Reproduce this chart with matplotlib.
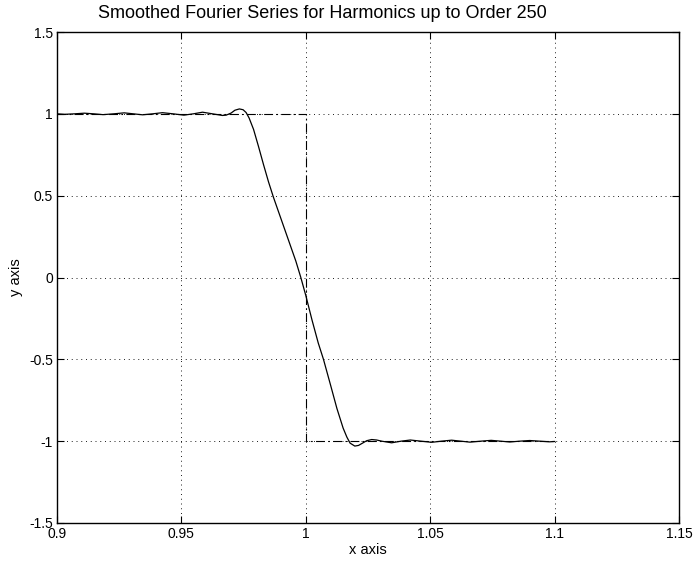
import matplotlib
matplotlib.use("Agg")
import matplotlib.pyplot as plt
from matplotlib.ticker import FuncFormatter

plt.rcParams['font.family'] = ['Liberation Sans', 'DejaVu Sans']

# Smoothed Fourier series curve
curve_x = [0.900, 0.903, 0.907, 0.911, 0.9148, 0.9185, 0.9228, 0.927, 0.9307, 0.9344,
           0.9384, 0.9424, 0.9467, 0.951, 0.9548, 0.9585, 0.9625, 0.9665, 0.968, 0.970,
           0.9715, 0.9733, 0.9748, 0.976, 0.9772, 0.979, 0.981, 0.983, 0.985, 0.987,
           0.990, 0.993, 0.996, 0.998, 1.000, 1.0025, 1.005, 1.0071, 1.010, 1.0125,
           1.015, 1.0165, 1.0178, 1.0197, 1.0212, 1.0228, 1.0245, 1.0265, 1.0285, 1.0305,
           1.0345, 1.0383, 1.042, 1.0463, 1.0506, 1.0545, 1.0586, 1.0623, 1.066, 1.0703,
           1.0745, 1.0783, 1.082, 1.086, 1.090, 1.094, 1.098, 1.100]
curve_y = [1.000, 0.997, 1.000, 1.004, 1.000, 0.995, 1.000, 1.006, 1.000, 0.994,
           1.000, 1.007, 1.000, 0.992, 1.000, 1.010, 1.000, 0.990, 0.992, 1.005,
           1.022, 1.030, 1.025, 1.008, 0.975, 0.905, 0.80, 0.69, 0.585, 0.49,
           0.36, 0.23, 0.10, 0.0, -0.11, -0.26, -0.40, -0.50, -0.66, -0.80,
           -0.92, -0.975, -1.012, -1.030, -1.026, -1.012, -0.997, -0.990, -0.993, -1.000,
           -1.010, -1.000, -0.993, -1.000, -1.007, -1.000, -0.994, -1.000, -1.006, -1.000,
           -0.995, -1.000, -1.005, -1.000, -0.996, -1.000, -1.004, -1.002]

# Square wave (dash-dot)
step_x = [0.9, 1.0, 1.0, 1.1]
step_y = [1.0, 1.0, -1.0, -1.0]

x_ticks = [0.9, 0.95, 1.0, 1.05, 1.1, 1.15]
y_ticks = [-1.5, -1.0, -0.5, 0.0, 0.5, 1.0, 1.5]

fig = plt.figure(figsize=(6.97, 5.66), dpi=100)
ax = fig.add_axes([57/697, 43/566, 622/697, 491/566])

ax.plot(step_x, step_y, color='black', lw=0.8, linestyle=(0, (8, 3, 1.5, 3)))
ax.plot(curve_x, curve_y, color='black', lw=0.9)

ax.set_xlim(0.9, 1.15)
ax.set_ylim(-1.5, 1.5)
ax.set_xticks(x_ticks)
ax.set_yticks(y_ticks)
fmt = FuncFormatter(lambda v, p: ('%g' % round(v, 4)))
ax.xaxis.set_major_formatter(fmt)
ax.yaxis.set_major_formatter(fmt)
ax.grid(True, color='black', linestyle=(0, (1.2, 4.5)), lw=0.6)
ax.tick_params(direction='in', top=True, right=True, length=5, width=0.8,
               labelsize=10, pad=3)
for s in ax.spines.values():
    s.set_linewidth(1.0)

ax.set_xlabel('x axis', fontsize=10.5, labelpad=1)
ax.set_ylabel('y axis', fontsize=10.5, labelpad=4)
fig.text(322/697, 1 - 13/566, 'Smoothed Fourier Series for Harmonics up to Order 250',
         ha='center', va='center', fontsize=13)

fig.savefig('out.png', dpi=100)
